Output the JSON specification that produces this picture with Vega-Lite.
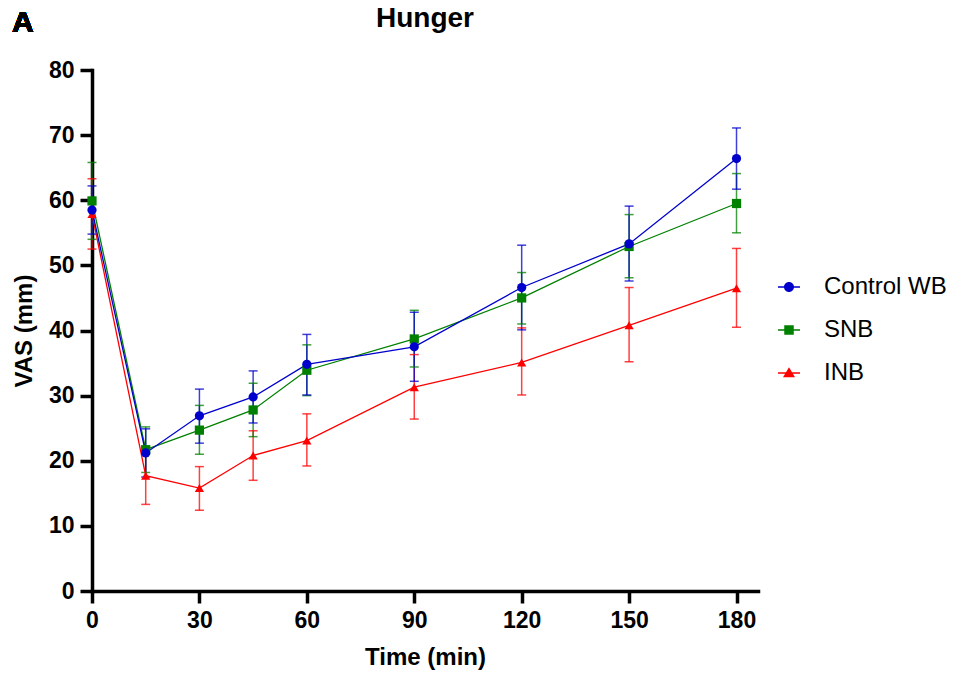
{
  "$schema": "https://vega.github.io/schema/vega-lite/v6.json",
  "width": 666,
  "height": 521,
  "autosize": {"type": "none"},
  "padding": {"left": 92, "top": 70, "right": 200, "bottom": 88},
  "background": "white",
  "config": {
    "view": {"stroke": null},
    "font": "Liberation Sans",
    "axis": {"grid": false}
  },
  "title": {
    "text": "Hunger",
    "font": "Liberation Sans",
    "fontSize": 28,
    "fontWeight": "bold",
    "color": "black",
    "anchor": "middle",
    "offset": 0,
    "dy": 25
  },
  "resolve": {
    "scale": {"shape": "independent"},
    "legend": {"color": "independent", "shape": "independent"}
  },
  "data": {
    "values": [
      {"group": "INB", "t": 0, "mean": 57.9, "lo": 52.5, "hi": 63.3},
      {"group": "INB", "t": 15, "mean": 17.7, "lo": 13.3, "hi": 22.1},
      {"group": "INB", "t": 30, "mean": 15.8, "lo": 12.4, "hi": 19.1},
      {"group": "INB", "t": 45, "mean": 20.8, "lo": 17.0, "hi": 24.6},
      {"group": "INB", "t": 60, "mean": 23.1, "lo": 19.2, "hi": 27.2},
      {"group": "INB", "t": 90, "mean": 31.3, "lo": 26.4, "hi": 36.3},
      {"group": "INB", "t": 120, "mean": 35.1, "lo": 30.1, "hi": 40.4},
      {"group": "INB", "t": 150, "mean": 40.8, "lo": 35.2, "hi": 46.6},
      {"group": "INB", "t": 180, "mean": 46.5, "lo": 40.5, "hi": 52.6},
      {"group": "SNB", "t": 0, "mean": 59.9, "lo": 54.0, "hi": 65.8},
      {"group": "SNB", "t": 15, "mean": 21.7, "lo": 18.2, "hi": 25.2},
      {"group": "SNB", "t": 30, "mean": 24.7, "lo": 21.0, "hi": 28.5},
      {"group": "SNB", "t": 45, "mean": 27.8, "lo": 23.7, "hi": 31.9},
      {"group": "SNB", "t": 60, "mean": 33.9, "lo": 30.0, "hi": 37.8},
      {"group": "SNB", "t": 90, "mean": 38.7, "lo": 34.4, "hi": 43.1},
      {"group": "SNB", "t": 120, "mean": 45.0, "lo": 41.0, "hi": 48.9},
      {"group": "SNB", "t": 150, "mean": 52.9, "lo": 48.1, "hi": 57.8},
      {"group": "SNB", "t": 180, "mean": 59.5, "lo": 55.0, "hi": 64.1},
      {"group": "Control WB", "t": 0, "mean": 58.5, "lo": 54.8, "hi": 62.2},
      {"group": "Control WB", "t": 15, "mean": 21.2, "lo": 17.5, "hi": 24.9},
      {"group": "Control WB", "t": 30, "mean": 26.9, "lo": 22.7, "hi": 31.0},
      {"group": "Control WB", "t": 45, "mean": 29.8, "lo": 25.8, "hi": 33.8},
      {"group": "Control WB", "t": 60, "mean": 34.8, "lo": 30.1, "hi": 39.4},
      {"group": "Control WB", "t": 90, "mean": 37.5, "lo": 32.2, "hi": 42.8},
      {"group": "Control WB", "t": 120, "mean": 46.6, "lo": 40.1, "hi": 53.1},
      {"group": "Control WB", "t": 150, "mean": 53.3, "lo": 47.6, "hi": 59.1},
      {"group": "Control WB", "t": 180, "mean": 66.4, "lo": 61.7, "hi": 71.1}
    ]
  },
  "encoding": {
    "x": {
      "field": "t",
      "type": "quantitative",
      "scale": {"domain": [0, 186], "nice": false, "zero": false},
      "axis": {
        "title": "Time (min)",
        "values": [0, 30, 60, 90, 120, 150, 180],
        "domainWidth": 3.5,
        "domainColor": "black",
        "domainCap": "square",
        "tickWidth": 3.5,
        "tickSize": 12,
        "tickColor": "black",
        "labelFont": "Liberation Sans",
        "labelFontSize": 23,
        "labelFontWeight": "bold",
        "labelColor": "black",
        "labelPadding": 6,
        "labelFlush": false,
        "titleFont": "Liberation Sans",
        "titleFontSize": 24,
        "titleFontWeight": "bold",
        "titleColor": "black",
        "titlePadding": 13,
        "titleX": 333
      }
    },
    "y": {
      "field": "mean",
      "type": "quantitative",
      "scale": {"domain": [0, 80], "nice": false},
      "axis": {
        "title": "VAS (mm)",
        "values": [0, 10, 20, 30, 40, 50, 60, 70, 80],
        "domainWidth": 3.5,
        "domainColor": "black",
        "domainCap": "square",
        "tickWidth": 3.5,
        "tickSize": 12,
        "tickColor": "black",
        "labelFont": "Liberation Sans",
        "labelFontSize": 23,
        "labelFontWeight": "bold",
        "labelColor": "black",
        "labelPadding": 6,
        "labelFlush": false,
        "titleFont": "Liberation Sans",
        "titleFontSize": 24,
        "titleFontWeight": "bold",
        "titleColor": "black",
        "titlePadding": 12
      }
    }
  },
  "layer": [
    {
      "mark": {"type": "rule", "strokeWidth": 1.5, "opacity": 0.75},
      "encoding": {
        "y": {"field": "lo", "type": "quantitative"},
        "y2": {"field": "hi"},
        "color": {"field": "group", "type": "nominal", "scale": {"domain": ["Control WB", "SNB", "INB"], "range": ["#0000CC", "#008000", "#FF0000"]}, "legend": null}
      }
    },
    {
      "mark": {"type": "tick", "orient": "horizontal", "size": 9, "thickness": 1.5, "opacity": 0.75},
      "encoding": {
        "y": {"field": "lo", "type": "quantitative"},
        "color": {"field": "group", "type": "nominal", "legend": null}
      }
    },
    {
      "mark": {"type": "tick", "orient": "horizontal", "size": 9, "thickness": 1.5, "opacity": 0.75},
      "encoding": {
        "y": {"field": "hi", "type": "quantitative"},
        "color": {"field": "group", "type": "nominal", "legend": null}
      }
    },
    {
      "mark": {"type": "line", "strokeWidth": 1.3},
      "encoding": {
        "color": {"field": "group", "type": "nominal", "legend": null}
      }
    },
    {
      "mark": {"type": "point", "filled": true, "opacity": 1, "size": 85},
      "encoding": {
        "color": {"field": "group", "type": "nominal", "legend": null},
        "shape": {
          "field": "group",
          "type": "nominal",
          "scale": {
            "domain": ["Control WB", "SNB", "INB"],
            "range": ["circle", "square", "triangle-up"]
          },
          "legend": null
        }
      }
    },
    {
      "transform": [{"filter": "datum.t < 0"}],
      "mark": {"type": "point", "filled": true, "opacity": 1},
      "encoding": {
        "color": {
          "field": "group",
          "type": "nominal",
          "legend": {
            "title": null,
            "orient": "none",
            "legendX": 685,
            "legendY": 205,
            "padding": 0,
            "labelFont": "Liberation Sans",
            "labelFontSize": 24,
            "labelColor": "black",
            "labelOffset": 23,
            "symbolSize": 100,
            "symbolOpacity": 1,
            "symbolStrokeWidth": 0,
            "rowPadding": 19,
            "labelLimit": 300
          }
        },
        "shape": {
          "field": "group",
          "type": "nominal",
          "scale": {
            "domain": ["Control WB", "SNB", "INB"],
            "range": [
              "M-2.2,-0.13H-0.95V0.13H-2.2Z M0.95,-0.13H2.2V0.13H0.95Z M-1,0A1,1 0 1,1 1,0A1,1 0 1,1 -1,0Z",
              "M-2.2,-0.13H-0.95V0.13H-2.2Z M0.95,-0.13H2.2V0.13H0.95Z M-0.95,-0.95H0.95V0.95H-0.95Z",
              "M-2.2,-0.13H2.2V0.13H-2.2Z M0,-1.15L1.2,0.85H-1.2Z"
            ]
          },
          "legend": {
            "title": null,
            "orient": "none",
            "legendX": 685,
            "legendY": 205,
            "padding": 0,
            "labelFont": "Liberation Sans",
            "labelFontSize": 24,
            "labelColor": "black",
            "labelOffset": 23,
            "symbolSize": 100,
            "symbolOpacity": 1,
            "symbolStrokeWidth": 0,
            "rowPadding": 19,
            "labelLimit": 300
          }
        }
      }
    },
    {
      "mark": {"type": "text", "text": "A", "font": "Liberation Sans", "fontSize": 30, "fontWeight": "bold", "align": "left", "baseline": "top"},
      "encoding": {
        "x": {"value": -80},
        "y": {"value": -62},
        "color": {"value": "black"}
      }
    }
  ]
}
